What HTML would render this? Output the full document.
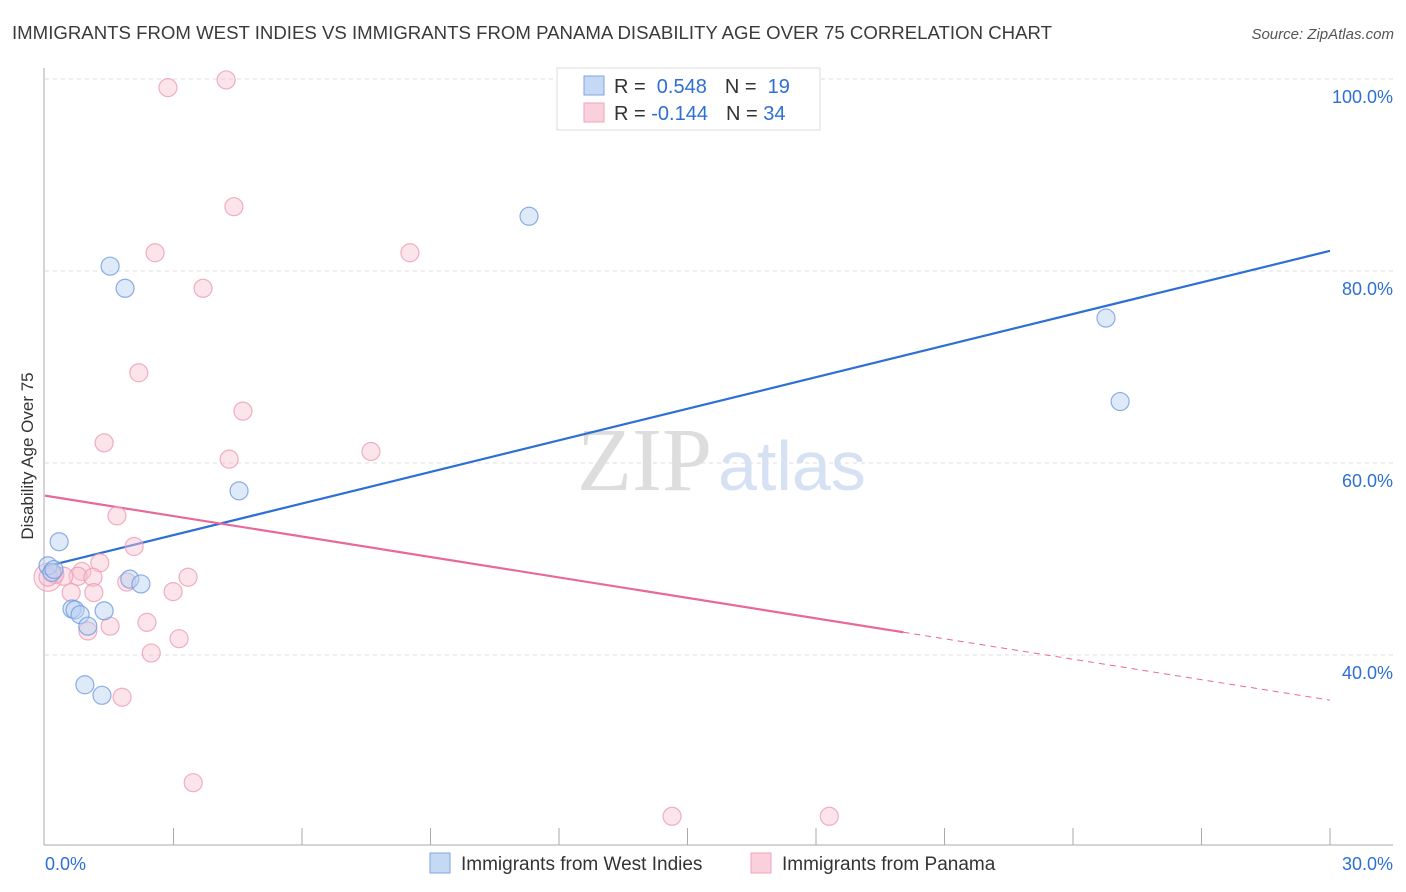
<!DOCTYPE html>
<html><head><meta charset="utf-8"><style>
body{margin:0;background:#fff;font-family:"Liberation Sans",sans-serif;}
svg{display:block}
</style></head><body>
<svg id="chart" width="1406" height="892">
<text x="12" y="39" font-size="18" fill="#3a3a3a" textLength="1040" lengthAdjust="spacingAndGlyphs">IMMIGRANTS FROM WEST INDIES VS IMMIGRANTS FROM PANAMA DISABILITY AGE OVER 75 CORRELATION CHART</text>
<text x="1394" y="39" font-size="15" fill="#555" text-anchor="end" font-style="italic">Source: ZipAtlas.com</text>
<text x="0" y="0" transform="translate(33,456) rotate(-90)" font-size="17" fill="#333" text-anchor="middle">Disability Age Over 75</text>
<g id="grid"></g>
<text x="712" y="490" font-size="90" fill="#ddd" text-anchor="end" font-family="Liberation Serif">ZIP</text>
<text x="718" y="490" font-size="70" fill="#d6e2f3">atlas</text>
<g id="lines"></g>
<g id="points"></g>
<g>
<rect x="557" y="68" width="263" height="62" fill="#fff" stroke="#ddd"/>
<rect x="584" y="76" width="20" height="19" fill="#c5d9f5" stroke="#7ea6e0"/>
<rect x="584" y="103" width="20" height="19" fill="#fbd0dd" stroke="#f0a3ba"/>
<text x="614" y="93" font-size="20" fill="#333">R = <tspan fill="#2d6fd4">&#160;0.548</tspan><tspan dx="18">N = </tspan><tspan fill="#2d6fd4">&#160;19</tspan></text>
<text x="614" y="120" font-size="20" fill="#333">R = <tspan fill="#2d6fd4">-0.144</tspan><tspan dx="18">N = </tspan><tspan fill="#2d6fd4">34</tspan></text>
</g>
<g>
<rect x="430" y="853" width="20" height="20" fill="#c5d9f5" stroke="#7ea6e0"/>
<text x="461" y="870" font-size="19" fill="#333">Immigrants from West Indies</text>
<rect x="751" y="853" width="20" height="20" fill="#fbd0dd" stroke="#f0a3ba"/>
<text x="782" y="870" font-size="19" fill="#333">Immigrants from Panama</text>
</g>
</svg>
<script>
const blueX=[1.52,1.87,11.3,24.77,25.1,4.53,0.33,0.07,0.16,0.63,0.7,0.82,1.0,1.38,1.98,2.24,0.93,1.33,0.21];
const blueY=[80.5,78.2,85.7,75.1,66.4,57.1,51.8,49.3,48.6,44.8,44.7,44.2,43.0,44.6,47.9,47.4,36.9,35.8,48.9];
const pinkX=[2.87,4.23,4.41,2.57,8.52,3.69,2.19,4.62,1.38,4.30,7.61,1.68,2.08,1.28,0.86,0.77,0.44,0.23,0.07,1.12,3.34,1.91,0.61,1.14,2.99,1.52,1.0,2.38,3.13,2.48,1.8,3.46,14.64,18.31];
const pinkY=[99.1,99.9,86.7,81.9,81.9,78.2,69.4,65.4,62.1,60.4,61.2,54.5,51.3,49.6,48.7,48.2,48.2,48.4,48.1,48.1,48.1,47.6,46.5,46.5,46.6,43.0,42.5,43.4,41.7,40.2,35.6,26.7,23.2,23.2];
const yTicks=[100,80,60,40];
const xTickLabels=["0.0%","30.0%"];
const blueTrend=[49.2,82.1];
const pinkTrend=[56.6,35.3];
const pinkSolidEnd=20.04;
const NS="http://www.w3.org/2000/svg";
const sx=v=>45+v/30*1285;
const sy=v=>79+(100-v)*9.6;
function mk(tag,attrs,parent){const e=document.createElementNS(NS,tag);for(const k in attrs)e.setAttribute(k,attrs[k]);parent.appendChild(e);return e;}
const grid=document.getElementById('grid');
yTicks.forEach(t=>{
 const l=mk('line',{x1:45,x2:1393,y1:sy(t),y2:sy(t),stroke:'#ddd','stroke-dasharray':'4,4'},grid);
 
 
 const tx=mk('text',{x:1393,y:sy(t)+24,'font-size':18,fill:'#2d6fd4','text-anchor':'end'},grid);
 tx.textContent=t.toFixed(1)+'%';
 
 
});
const ax=mk('line',{x1:44,x2:44,y1:68,y2:845,stroke:'#aaa'},grid);


const bx=mk('line',{x1:44,x2:1393,y1:845,y2:845,stroke:'#aaa'},grid);


for(let i=1;i<=10;i++){const t=mk('line',{x1:sx(i*3),x2:sx(i*3),y1:828,y2:845,stroke:'#aaa'},grid);
 
 }
[[0,'start',45],[30,'end',1393]].forEach((d,i)=>{const t=mk('text',{x:d[2],y:870,'font-size':18,fill:'#2d6fd4','text-anchor':d[1]},grid);t.textContent=xTickLabels[i];
 
 });
const pts=document.getElementById('points');
function dot(x,y,f,s,name){const c=mk('circle',{cx:sx(x),cy:sy(y),r:9,fill:f,stroke:s,'stroke-width':1.2,'fill-opacity':0.45,'stroke-opacity':0.8},pts);
 
 }
const big=mk('circle',{cx:sx(0.07),cy:sy(48.1),r:14,fill:'#f8c3d3','fill-opacity':0.4,stroke:'#f0a3ba'},pts);


pinkX.forEach((x,i)=>dot(x,pinkY[i],'#f8c3d3','#ee9bb5','panama-point'));
blueX.forEach((x,i)=>dot(x,blueY[i],'#b8d0f2','#6f9be0','west-indies-point'));
const ln=document.getElementById('lines');
const b=mk('line',{x1:sx(0),y1:sy(blueTrend[0]),x2:sx(30),y2:sy(blueTrend[1]),stroke:'#2d6fd4','stroke-width':2.2},ln);


const py=x=>pinkTrend[0]+(pinkTrend[1]-pinkTrend[0])*x/30;
const p=mk('line',{x1:sx(0),y1:sy(pinkTrend[0]),x2:sx(pinkSolidEnd),y2:sy(py(pinkSolidEnd)),stroke:'#e8689a','stroke-width':2.2},ln);


const pd=mk('line',{x1:sx(pinkSolidEnd),y1:sy(py(pinkSolidEnd)),x2:sx(30),y2:sy(pinkTrend[1]),stroke:'#e8689a','stroke-width':1,'stroke-dasharray':'6,5'},ln);


</script>
</body></html>
